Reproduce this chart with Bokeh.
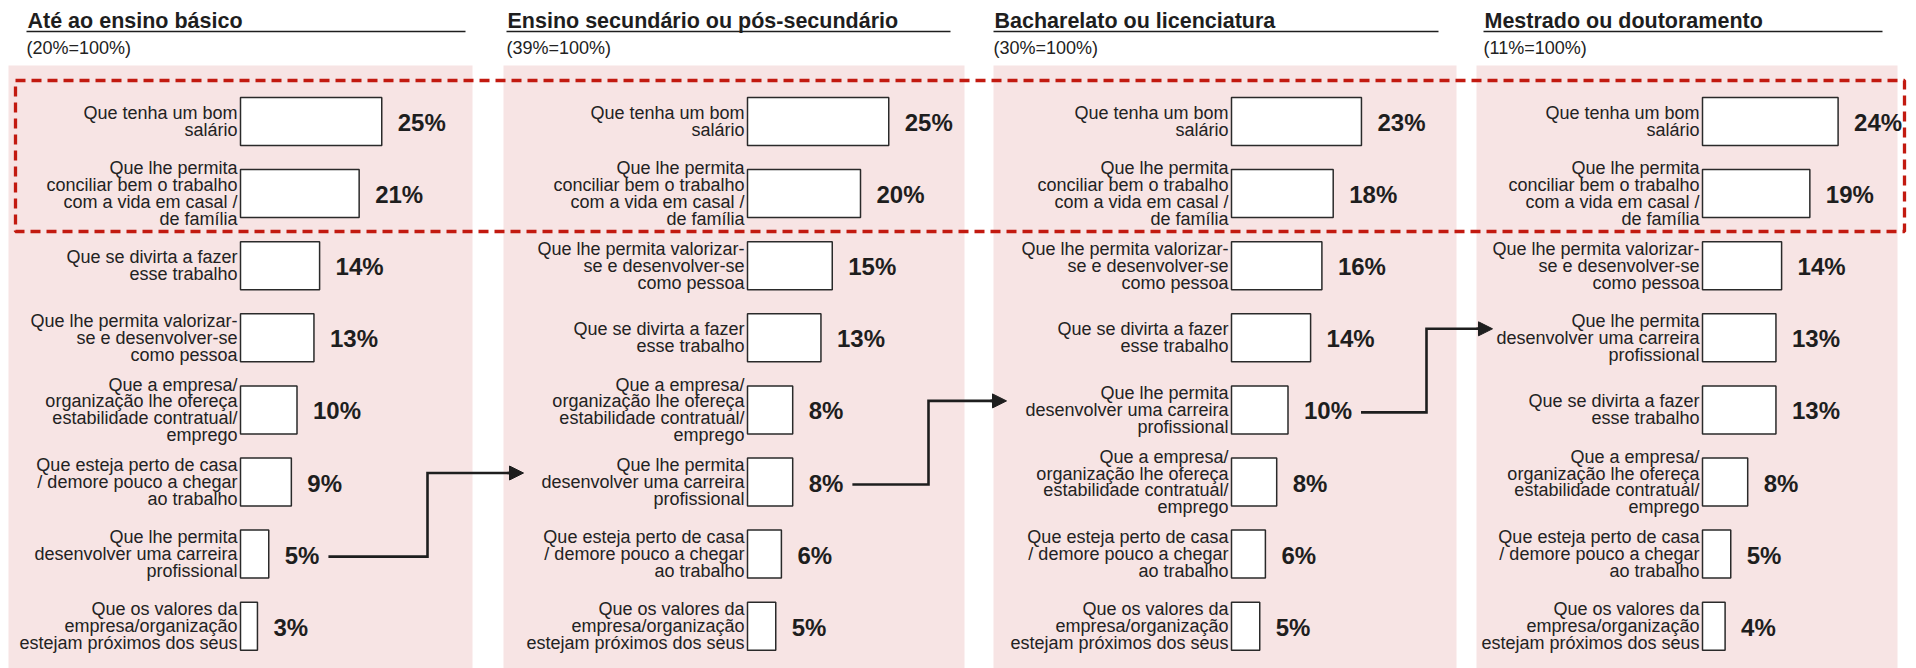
from bokeh.plotting import figure
from bokeh.models import Range1d, Arrow, NormalHead
from bokeh.embed import file_html
from bokeh.resources import INLINE
from bokeh.core.properties import value

# ---------------- data ----------------
LABELS = {
    "salario": "Que tenha um bom\nsalário",
    "conciliar": "Que lhe permita\nconciliar bem o trabalho\ncom a vida em casal /\nde família",
    "divirta": "Que se divirta a fazer\nesse trabalho",
    "valorizar": "Que lhe permita valorizar-\nse e desenvolver-se\ncomo pessoa",
    "estabilidade": "Que a empresa/\norganização lhe ofereça\nestabilidade contratual/\nemprego",
    "perto": "Que esteja perto de casa\n/ demore pouco a chegar\nao trabalho",
    "carreira": "Que lhe permita\ndesenvolver uma carreira\nprofissional",
    "valores": "Que os valores da\nempresa/organização\nestejam próximos dos seus",
}

titles = ["Até ao ensino básico", "Ensino secundário ou pós-secundário",
          "Bacharelato ou licenciatura", "Mestrado ou doutoramento"]
subtitles = ["(20%=100%)", "(39%=100%)", "(30%=100%)", "(11%=100%)"]

order_basico = ["salario", "conciliar", "divirta", "valorizar", "estabilidade", "perto", "carreira", "valores"]
values_basico = [25, 21, 14, 13, 10, 9, 5, 3]

order_secundario = ["salario", "conciliar", "valorizar", "divirta", "estabilidade", "carreira", "perto", "valores"]
values_secundario = [25, 20, 15, 13, 8, 8, 6, 5]

order_licenciatura = ["salario", "conciliar", "valorizar", "divirta", "carreira", "estabilidade", "perto", "valores"]
values_licenciatura = [23, 18, 16, 14, 10, 8, 6, 5]

order_mestrado = ["salario", "conciliar", "valorizar", "carreira", "divirta", "estabilidade", "perto", "valores"]
values_mestrado = [24, 19, 14, 13, 13, 8, 5, 4]

orders = [order_basico, order_secundario, order_licenciatura, order_mestrado]
values = [values_basico, values_secundario, values_licenciatura, values_mestrado]
highlight_key = "carreira"

# ---------------- layout ----------------
W, H = 1916, 668
PANEL_L = [8, 503, 993, 1476]
PANEL_R = [472, 964, 1456, 1897]
TITLE_X = [27, 507, 994, 1484]
RULE_R = [465, 950, 1438, 1882]
BAR_X0 = [240, 747, 1231, 1702]
PX_PER_PCT = 5.65
ROW0, ROW_STEP, BAR_H = 121.0, 72.1, 48.0
ELBOW_X = [427, 928, 1426]
TIP_X = [523, 1006, 1492]
VAL_FS = 24

PINK = "#f7e4e4"
RED = "#c21a10"
DARK = "#1e1e1e"
FONT = value("Liberation Sans")

p = figure(width=W, height=H, x_range=Range1d(0, W), y_range=Range1d(H, 0),
           output_backend="svg", toolbar_location=None, min_border=0,
           x_axis_location=None, y_axis_location=None)
p.grid.visible = False
p.outline_line_color = None
p.background_fill_color = "white"
p.border_fill_color = "white"

# pink panels
p.quad(left=PANEL_L, right=PANEL_R, top=[65] * 4, bottom=[H] * 4,
       fill_color=PINK, line_color=None)

# highlight dashed box
p.quad(left=[15], right=[1904], top=[80], bottom=[231], fill_alpha=0,
       line_color=RED, line_width=3.3, line_dash="10 6")

# titles, rules, subtitles
p.text(x=TITLE_X, y=[20] * 4, text=titles, text_font=FONT, text_font_style="bold",
       text_font_size="21.5px", text_color=DARK, text_baseline="alphabetic", text_align="left")
p.segment(x0=[x - 1 for x in TITLE_X], y0=[31] * 4, x1=RULE_R, y1=[31] * 4,
          line_color=DARK, line_width=1.5)
p.text(x=[x - 1 for x in TITLE_X], y=[47] * 4, text=subtitles, text_font=FONT,
       text_font_size="18px", text_color="#222222", text_baseline="middle", text_align="left")


def val_text_width(v):
    return (0.556 * len(str(v)) + 0.889) * VAL_FS


for i in range(4):
    x0 = BAR_X0[i]
    ys = [ROW0 + r * ROW_STEP for r in range(len(values[i]))]
    rights = [x0 + v * PX_PER_PCT for v in values[i]]
    p.quad(left=[x0] * len(ys), right=rights,
           top=[y - BAR_H / 2 for y in ys], bottom=[y + BAR_H / 2 for y in ys],
           fill_color="white", line_color="#2a2a2a", line_width=1.5)
    p.text(x=[x0 - 3] * len(ys), y=ys, text=[LABELS[k] for k in orders[i]],
           text_font=FONT, text_font_size="18px", text_line_height=0.846,
           text_color="#222222", text_align="right", text_baseline="middle")
    p.text(x=[r + 16 for r in rights], y=[y + 1 for y in ys],
           text=[f"{v}%" for v in values[i]], text_font=FONT, text_font_style="bold",
           text_font_size=f"{VAL_FS}px", text_color=DARK, text_align="left", text_baseline="middle")

# connectors following "carreira" across panels
for i in range(3):
    r1 = orders[i].index(highlight_key)
    r2 = orders[i + 1].index(highlight_key)
    v1 = values[i][r1]
    y1 = ROW0 + r1 * ROW_STEP + 2.5
    y2 = ROW0 + r2 * ROW_STEP - 9
    xs = BAR_X0[i] + v1 * PX_PER_PCT + 16 + val_text_width(v1) + 9
    xe = ELBOW_X[i]
    tip = TIP_X[i]
    p.line(x=[xs, xe, xe, tip - 8], y=[y1, y1, y2, y2], line_color=DARK,
           line_width=2.6, line_join="miter")
    p.add_layout(Arrow(end=NormalHead(size=14, fill_color=DARK, line_color=DARK, line_width=1),
                       x_start=tip - 16, y_start=y2, x_end=tip, y_end=y2,
                       line_color=DARK, line_width=2.6))

open("out.html", "w").write(file_html(p, INLINE))
